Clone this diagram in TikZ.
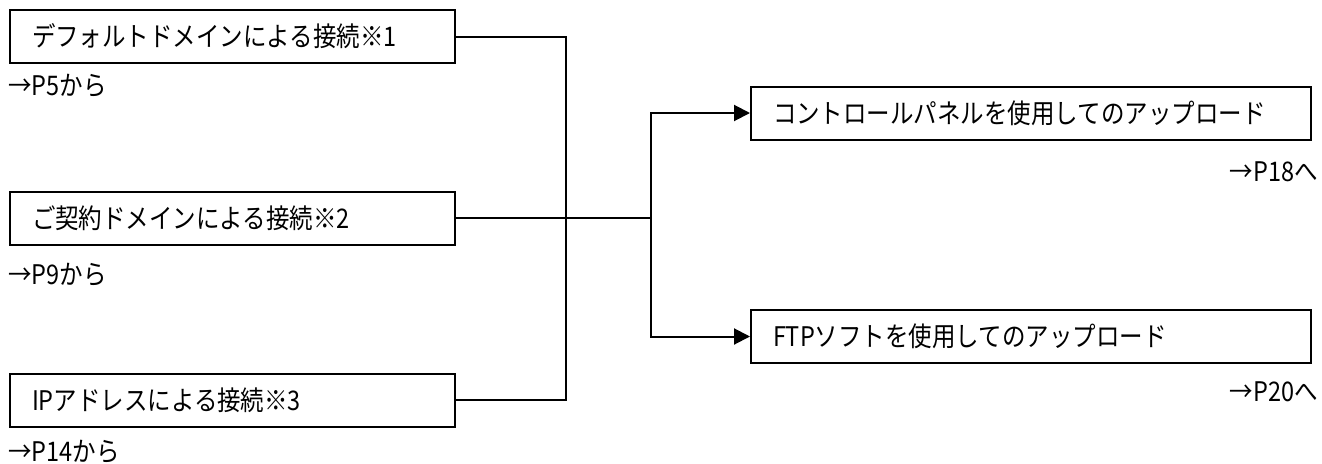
\documentclass[tikz,border=0pt]{standalone}
\usepackage{fontspec}
\newfontfamily\jp[FakeStretch=0.87]{Noto Sans CJK JP}
\usetikzlibrary{arrows.meta}
\begin{document}
\begin{tikzpicture}[x=1pt,y=-1pt,
  box/.style={draw, line width=2pt, minimum height=53pt, inner xsep=22pt, inner ysep=0pt, align=left, font=\jp\fontsize{27}{31}\selectfont},
  lbl/.style={inner sep=0pt, font=\jp\fontsize{27}{31}\selectfont},
  conn/.style={line width=2pt},
  arr/.style={conn, -{Triangle[length=16pt,width=16pt]}}]
\useasboundingbox (0,0) rectangle (1322,463);
\node[box, text width=401pt] (b1) at (232.5,36.5) {デフォルトドメインによる接続※1};
\node[box, text width=401pt] (b2) at (232.5,218) {ご契約ドメインによる接続※2};
\node[box, text width=401pt] (b3) at (232.5,400) {IPアドレスによる接続※3};
\node[box, text width=516pt] (b4) at (1031,113) {コントロールパネルを使用してのアップロード};
\node[box, text width=516pt] (b5) at (1031,336.5) {FTPソフトを使用してのアップロード};
\node[lbl, anchor=west] (l1) at (8,86) {→P5から};
\node[lbl, anchor=west] (l2) at (8,275) {→P9から};
\node[lbl, anchor=west] (l3) at (8,452) {→P14から};
\node[lbl, anchor=east] (l4) at (1318,172) {→P18へ};
\node[lbl, anchor=east] (l5) at (1318,392) {→P20へ};
\coordinate (j) at (566,218);
\coordinate (k) at (651,218);
\draw[conn] (b1.east) -| (j);
\draw[conn] (b3.east) -| (j);
\draw[conn] (b2.east) -- (k);
\draw[arr] (k) |- (b4.west);
\draw[arr] (k) |- (b5.west);
\end{tikzpicture}
\end{document}
